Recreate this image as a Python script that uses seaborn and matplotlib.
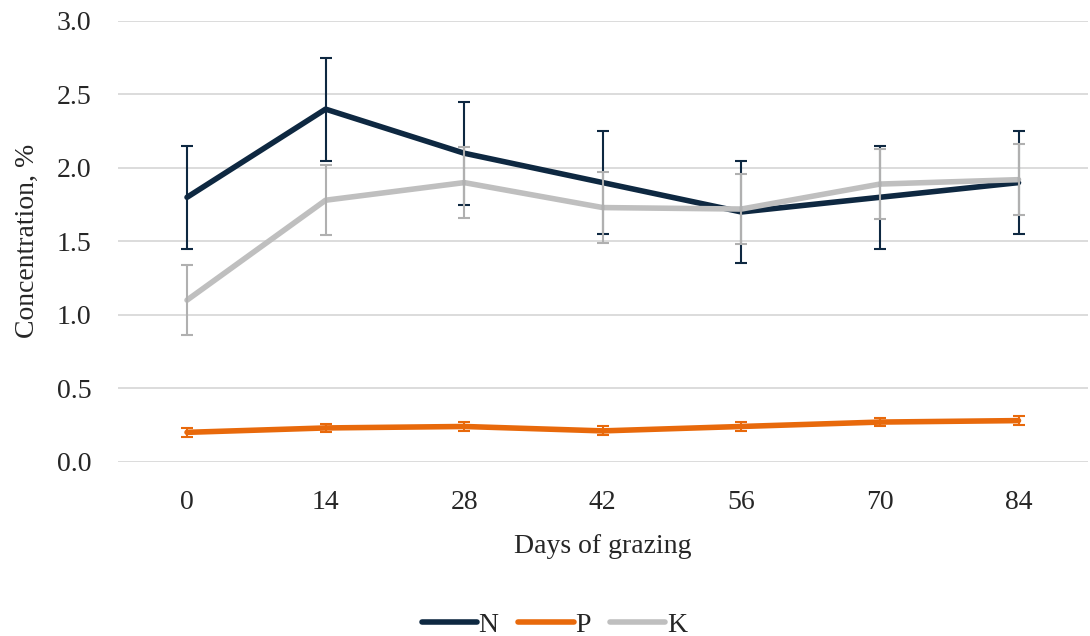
import matplotlib.pyplot as plt
import pandas as pd
import seaborn as sns

# Data
days = [0, 14, 28, 42, 56, 70, 84]
n_vals = [1.80, 2.40, 2.10, 1.90, 1.70, 1.80, 1.90]
p_vals = [0.20, 0.23, 0.24, 0.21, 0.24, 0.27, 0.28]
k_vals = [1.10, 1.78, 1.90, 1.73, 1.72, 1.89, 1.92]
n_err = [0.35] * 7
p_err = [0.03] * 7
k_err = [0.24] * 7

colors = {'N': '#0E2841', 'P': '#E8690B', 'K': '#BFBFBF'}
err_colors = {'N': '#0E2841', 'P': '#E8690B', 'K': '#B0B0B0'}

df = pd.DataFrame({
    'pos': list(range(len(days))) * 3,
    'value': n_vals + p_vals + k_vals,
    'nutrient': ['N'] * 7 + ['P'] * 7 + ['K'] * 7,
})
errs = {'N': n_err, 'P': p_err, 'K': k_err}
vals = {'N': n_vals, 'P': p_vals, 'K': k_vals}

sns.set_style('white')
plt.rcParams['font.family'] = ['Liberation Serif', 'DejaVu Serif']

fig, ax = plt.subplots(figsize=(10.9, 6.36), dpi=100)
fig.subplots_adjust(left=0.108, right=0.998, top=0.967, bottom=0.274)

sns.lineplot(data=df, x='pos', y='value', hue='nutrient', palette=colors,
             linewidth=4.0, ax=ax, zorder=3)

for name in ['N', 'K', 'P']:
    ax.errorbar(range(len(days)), vals[name], yerr=errs[name], fmt='none',
                ecolor=err_colors[name], elinewidth=1.5, capsize=4.5,
                capthick=1.5, zorder=4)

ax.set_xlim(-0.5, len(days) - 0.5)
ax.set_ylim(0, 3.0)
ax.set_yticks([0, 0.5, 1.0, 1.5, 2.0, 2.5, 3.0])
ax.set_yticklabels([f'{v:.1f}' for v in [0, 0.5, 1.0, 1.5, 2.0, 2.5, 3.0]])
ax.set_xticks(range(len(days)))
ax.set_xticklabels([str(d) for d in days])
ax.tick_params(axis='y', labelsize=20, length=0, pad=19)
ax.tick_params(axis='x', labelsize=20, length=0, pad=20)
ax.yaxis.grid(True, color='#D9D9D9', linewidth=1.3)
ax.set_axisbelow(True)
for s in ax.spines.values():
    s.set_visible(False)

ax.set_xlabel('Days of grazing', fontsize=20, labelpad=14)
ax.set_ylabel('Concentration, %', fontsize=20, labelpad=12)

ax.legend(loc='upper center', bbox_to_anchor=(0.45, -0.285), ncol=3,
          frameon=False, fontsize=20, handlelength=2.0, handletextpad=0.05,
          columnspacing=0.7)

fig.savefig('out.png', dpi=100)
